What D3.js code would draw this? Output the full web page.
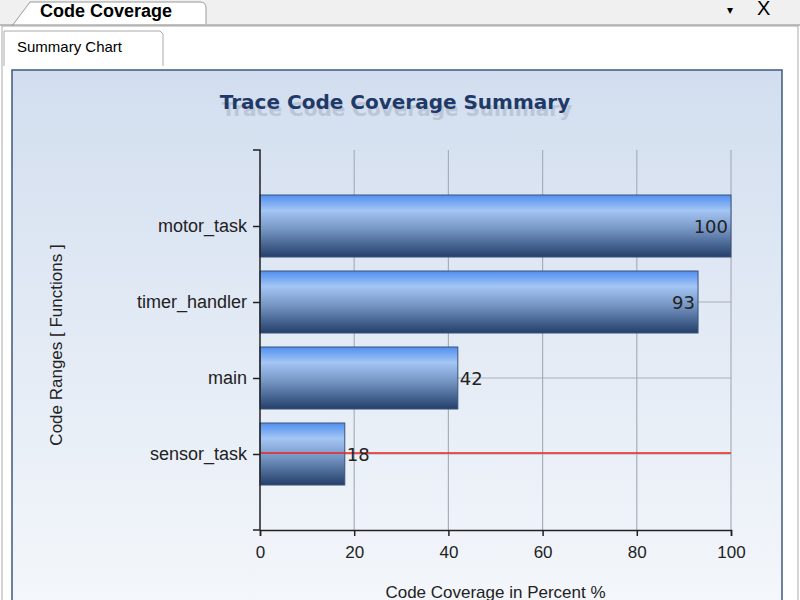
<!DOCTYPE html>
<html>
<head>
  <style>
    body { margin: 0; background: #fff; font-family: "DejaVu Sans", sans-serif; }
    svg { display: block; }
  </style>
</head>
<body>
  <svg id="chart" width="800" height="600"></svg>
  <script src="https://d3js.org/d3.v7.min.js"></script>
  <script>
    // Data
    const categories = ["motor_task", "timer_handler", "main", "sensor_task"];
    const coverage = [100, 93, 42, 18];
    const xTicks = [0, 20, 40, 60, 80, 100];
    const markerCategory = "sensor_task";

    const svg = d3.select("#chart");
    const defs = svg.append("defs");

    const bg = defs.append("linearGradient").attr("id", "bg").attr("x1", 0).attr("y1", 0).attr("x2", 0).attr("y2", 1);
    bg.append("stop").attr("offset", "0%").attr("stop-color", "#d2deef");
    bg.append("stop").attr("offset", "100%").attr("stop-color", "#f4f7fb");

    const barGrad = defs.append("linearGradient").attr("id", "bar").attr("x1", 0).attr("y1", 0).attr("x2", 0).attr("y2", 1);
    barGrad.append("stop").attr("offset", "0%").attr("stop-color", "#4f8ff0");
    barGrad.append("stop").attr("offset", "25%").attr("stop-color", "#a4c6f5");
    barGrad.append("stop").attr("offset", "55%").attr("stop-color", "#7696c4");
    barGrad.append("stop").attr("offset", "100%").attr("stop-color", "#243f6a");

    // Window frame and tabs
    svg.append("rect").attr("x", 0).attr("y", 0).attr("width", 800).attr("height", 26).attr("fill", "#f0f0f0");
    svg.append("path").attr("d", "M12,26 L30,2 L200,2 Q206,2 206,8 L206,24")
      .attr("fill", "#fff").attr("stroke", "#999");
    svg.append("text").attr("x", 40).attr("y", 17).attr("font-size", 18).attr("font-weight", "bold")
      .attr("font-family", "Liberation Sans, sans-serif").text("Code Coverage");
    svg.append("text").attr("x", 727).attr("y", 14).attr("font-size", 12).text("▾");
    svg.append("text").attr("x", 757).attr("y", 15).attr("font-size", 20).attr("font-family", "Liberation Sans, sans-serif").text("X");
    svg.append("line").attr("x1", 0).attr("x2", 800).attr("y1", 25).attr("y2", 25).attr("stroke", "#8a8a8a");
    svg.append("rect").attr("x", 2).attr("y", 26).attr("width", 796).attr("height", 580).attr("fill", "#fff").attr("stroke", "#aaa");
    svg.append("path").attr("d", "M4,66 L4,31 L160,31 L163,34 L163,66").attr("fill", "#fff").attr("stroke", "#aaa");
    svg.append("text").attr("x", 17).attr("y", 52).attr("font-size", 15)
      .attr("font-family", "Liberation Sans Narrow, Liberation Sans, sans-serif").text("Summary Chart");

    // Chart panel
    svg.append("rect").attr("x", 12).attr("y", 70).attr("width", 770).attr("height", 540)
      .attr("fill", "url(#bg)").attr("stroke", "#3c5a80").attr("stroke-width", 1.5);

    // Title with faint reflection
    svg.append("text").attr("x", 397).attr("y", 112).attr("text-anchor", "middle")
      .attr("font-size", 20).attr("font-weight", "bold").attr("fill", "#aab5c8").attr("opacity", 0.6)
      .attr("transform", "translate(0,4)").text("Trace Code Coverage Summary");
    svg.append("text").attr("x", 395).attr("y", 109).attr("text-anchor", "middle")
      .attr("font-size", 20).attr("font-weight", "bold").attr("fill", "#1f3a68")
      .text("Trace Code Coverage Summary");

    const plotLeft = 260, plotRight = 731, plotTop = 150, plotBottom = 530;
    const x = d3.scaleLinear().domain([0, 100]).range([plotLeft, plotRight]);
    const y = d3.scalePoint().domain(categories).range([plotTop, plotBottom]).padding(1);
    const barH = 62;

    // Grid
    svg.append("g").selectAll("line").data(xTicks.slice(1)).join("line")
      .attr("x1", d => x(d)).attr("x2", d => x(d)).attr("y1", plotTop).attr("y2", plotBottom)
      .attr("stroke", "#a9afb8").attr("stroke-width", 1.2);
    svg.append("g").selectAll("line").data(categories).join("line")
      .attr("x1", plotLeft).attr("x2", plotRight).attr("y1", d => y(d)).attr("y2", d => y(d))
      .attr("stroke", "#a9afb8").attr("stroke-width", 1.2);

    // Bars
    svg.append("g").selectAll("rect").data(categories).join("rect")
      .attr("x", plotLeft).attr("y", d => y(d) - barH / 2)
      .attr("width", (d, i) => x(coverage[i]) - plotLeft).attr("height", barH)
      .attr("fill", "url(#bar)").attr("stroke", "#3a5378").attr("stroke-width", 1);

    // Marker line
    svg.append("line").attr("x1", plotLeft).attr("x2", plotRight)
      .attr("y1", y(markerCategory) - 1).attr("y2", y(markerCategory) - 1)
      .attr("stroke", "#ee2020").attr("stroke-width", 1.5);

    // Value labels
    svg.append("g").selectAll("text").data(categories).join("text")
      .attr("x", (d, i) => coverage[i] >= 90 ? x(coverage[i]) - 3 : x(coverage[i]) + 2)
      .attr("y", d => y(d) + 7)
      .attr("text-anchor", (d, i) => coverage[i] >= 90 ? "end" : "start")
      .attr("font-size", 18).attr("fill", "#222")
      .text((d, i) => coverage[i]);

    // Axes
    const xAxis = svg.append("g").attr("transform", `translate(0,${plotBottom})`)
      .call(d3.axisBottom(x).tickValues(xTicks).tickSize(6).tickFormat(d3.format("d")));
    xAxis.selectAll("text").attr("font-size", 17).attr("fill", "#222").attr("dy", "1.1em");
    const yAxis = svg.append("g").attr("transform", `translate(${plotLeft},0)`)
      .call(d3.axisLeft(y).tickSize(7).tickPadding(6));
    yAxis.selectAll("text").attr("font-size", 18).attr("fill", "#222")
      .attr("font-family", "Liberation Sans, sans-serif");
    svg.selectAll(".domain, .tick line").attr("stroke", "#222").attr("stroke-width", 1.5);
    yAxis.select(".domain").attr("d", `M-7,${plotTop}H0V${plotBottom}H-7`);

    // Axis titles
    svg.append("text").attr("x", (plotLeft + plotRight) / 2).attr("y", 598).attr("text-anchor", "middle")
      .attr("font-size", 17).attr("fill", "#222").attr("font-family", "Liberation Sans, sans-serif")
      .text("Code Coverage in Percent %");
    svg.append("text").attr("transform", "translate(62,345) rotate(-90)").attr("text-anchor", "middle")
      .attr("font-size", 17).attr("fill", "#222").attr("font-family", "Liberation Sans, sans-serif")
      .text("Code Ranges [ Functions ]");
  </script>
</body>
</html>
